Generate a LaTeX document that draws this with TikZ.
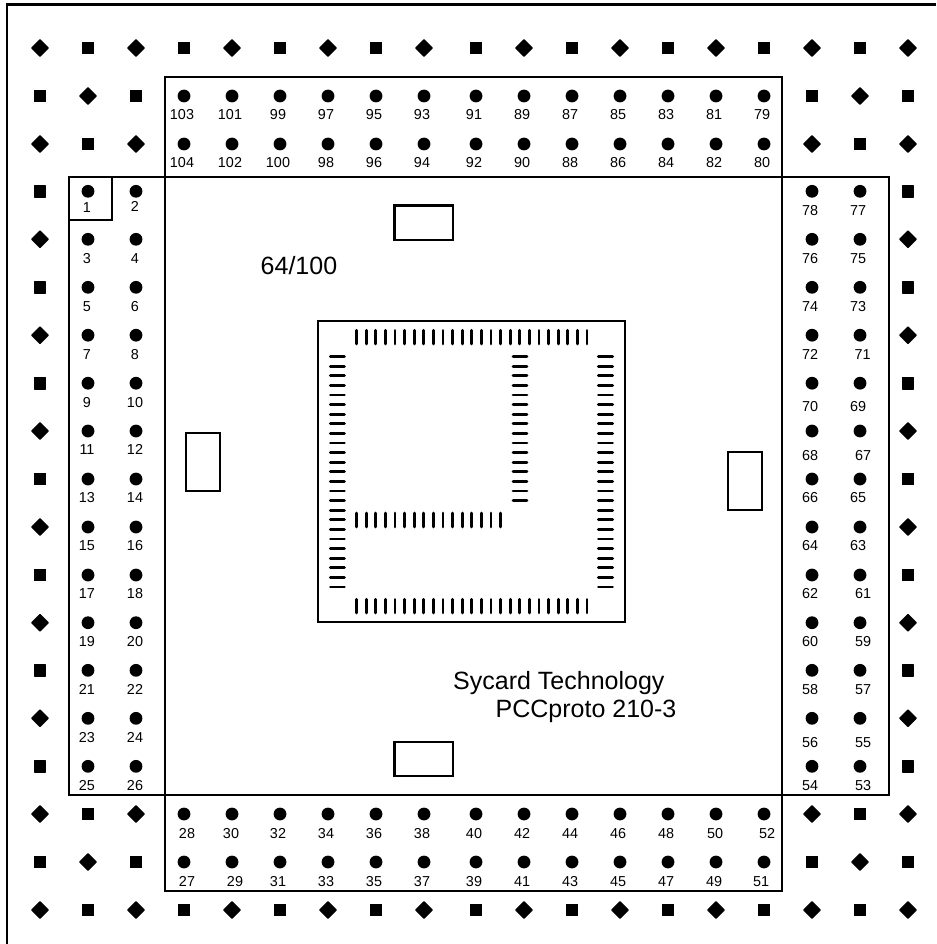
\documentclass[tikz,border=0pt]{standalone}
\usepackage{fontspec}
\setmainfont{Liberation Sans}
\tikzset{
  rule/.style={line width=2.1pt, line cap=butt, line join=miter},
  pad/.style={line width=2.9pt, line cap=round},
  pin/.style={fill=black},
  mark sq/.style={fill=black, draw=black, line width=1.6pt, line join=round},
  mark di/.style={fill=black, draw=black, line width=1.6pt, line join=round},
  lab/.style={inner sep=0pt, text height=10.3pt, text depth=0pt, font=\fontsize{14.4}{16}\selectfont},
  big/.style={inner sep=0pt, anchor=base west, font=\fontsize{25}{28}\selectfont}
}
\newcommand{\gridmark}[3]{%
  \pgfmathtruncatemacro{\parity}{mod(#1+#2,2)}%
  \ifnum\parity=0
    \fill[mark di] ({\gridx-8},\gridy) -- (\gridx,{\gridy-8}) -- ({\gridx+8},\gridy) -- (\gridx,{\gridy+8}) -- cycle;
  \else
    \fill[mark sq] ({\gridx-5.6},{\gridy-5.6}) rectangle ({\gridx+5.6},{\gridy+5.6});
  \fi}
\begin{document}
\begin{tikzpicture}[x=1pt,y=-1pt]
\useasboundingbox (0,0) rectangle (936,944);
% outer frame (top and left only)
\draw[rule] (936,4.5) -- (7,4.5) -- (7,944);
% connector boxes
\draw[rule] (165,76.7) rectangle (782,177.3);
\draw[rule] (165,795) rectangle (782,890.7);
\draw[rule] (69,177.3) rectangle (165,795);
\draw[rule] (782,177.3) rectangle (888.7,795);
\draw[rule] (69,177.3) rectangle (112,220);
% small rectangles
\draw[rule] (394.5,205.5) rectangle (453,240);
\draw[rule] (394.5,742) rectangle (453,776);
\draw[rule] (186,433) rectangle (220,491);
\draw[rule] (728,452) rectangle (762,510);
% chip
\draw[rule] (317.7,320.7) rectangle (625,622.3);
\foreach \i in {0,...,24} {
  \pgfmathsetmacro{\pp}{356.6+9.6*\i}
  \draw[pad] (\pp,330.4) -- (\pp,344);
  \draw[pad] (\pp,599.4) -- (\pp,612.8);
}
\foreach \i in {0,...,24} {
  \pgfmathsetmacro{\pp}{356.6+9.6*\i}
  \draw[pad] (330.4,\pp) -- (344.4,\pp);
  \draw[pad] (598.4,\pp) -- (612.6,\pp);
}
\foreach \i in {0,...,15} {
  \pgfmathsetmacro{\pp}{356.6+9.6*\i}
  \draw[pad] (\pp,513) -- (\pp,527);
  \draw[pad] (513,\pp) -- (527,\pp);
}
% mounting marks
\foreach \cc/\gridx in {0/40,1/88,2/136,3/184,4/232,5/280,6/328,7/376,8/424,9/476,10/524,11/572,12/620,13/668,14/716,15/764,16/812,17/860,18/908} {
  \foreach \rr/\gridy in {0/48,1/96,2/144,3/191.3,4/239.3,5/287.3,6/335.2,7/383.2,8/431,9/479,10/527,11/575,12/622.7,13/670.3,14/718.3,15/766.3,16/814,17/862,18/910} {
    \pgfmathtruncatemacro{\show}{(\rr==0 || \rr==18 || \cc==0 || \cc==18 || ((\rr<3 || \rr>15) && (\cc<3 || \cc>15))) ? 1 : 0}
    \ifnum\show=1 \gridmark{\cc}{\rr}{} \fi
  }
}
% pins: top and bottom
\foreach \px in {184,232,280,328,376,424,476,524,572,620,668,716,764} {
  \foreach \py in {96,144,814,862} { \fill[pin] (\px,\py) circle (6.4); }
}
% pins: left and right
\foreach \py in {191.3,239.3,287.3,335.2,383.2,431,479,527,575,622.7,670.3,718.3,766.3} {
  \foreach \px in {88,136,812,860} { \fill[pin] (\px,\py) circle (6.4); }
}
% labels
\foreach \t/\lx/\ly in {
 103/182/114,101/230/114,99/278/114,97/326/114,95/374/114,93/422/114,91/474/114,89/522/114,87/570/114,85/618/114,83/666/114,81/714/114,79/762/114,
 104/182/162,102/230/162,100/278/162,98/326/162,96/374/162,94/422/162,92/474/162,90/522/162,88/570/162,86/618/162,84/666/162,82/714/162,80/762/162,
 1/87/207,2/135/206.5,3/87/258,4/135/258,5/87/306,6/135/306,7/87/354,8/135/354,9/87/402,10/135/402,11/87/449.5,12/135/449.5,13/87/497,14/135/497,15/87/545,16/135/545,17/87/593,18/135/593,19/87/641,20/135/641,21/87/689,22/135/689,23/87/737,24/135/737,25/87/785,26/135/785,
 78/810/210,77/858/210,76/810/258,75/858/258,74/810/306,73/858/306,72/810/354,71/862.7/354,70/810/406.5,69/858/406.5,68/810/455,67/863/455,66/810/497,65/858/497,64/810/545,63/858/545,62/810/593,61/863/593,60/810/641,59/863/641,58/810/689,57/863/689,56/810/742,55/863/742,54/810/785,53/863/785,
 28/187/833,30/231/833,32/278/833,34/326/833,36/374/833,38/422/833,40/474/833,42/522/833,44/570/833,46/618/833,48/666/833,50/715/833,52/767/833,
 27/187/881,29/235/881,31/278/881,33/326/881,35/374/881,37/422/881,39/474/881,41/522/881,43/570/881,45/618/881,47/666/881,49/714/881,51/761/881
} { \node[lab] (p\t) at (\lx,\ly) {\t}; }
\node[big] (partno) at (260.5,274) {64/100};
\node[big] (maker) at (453,689) {Sycard Technology};
\node[big] (board) at (495.5,717) {PCCproto 210-3};
\end{tikzpicture}
\end{document}
